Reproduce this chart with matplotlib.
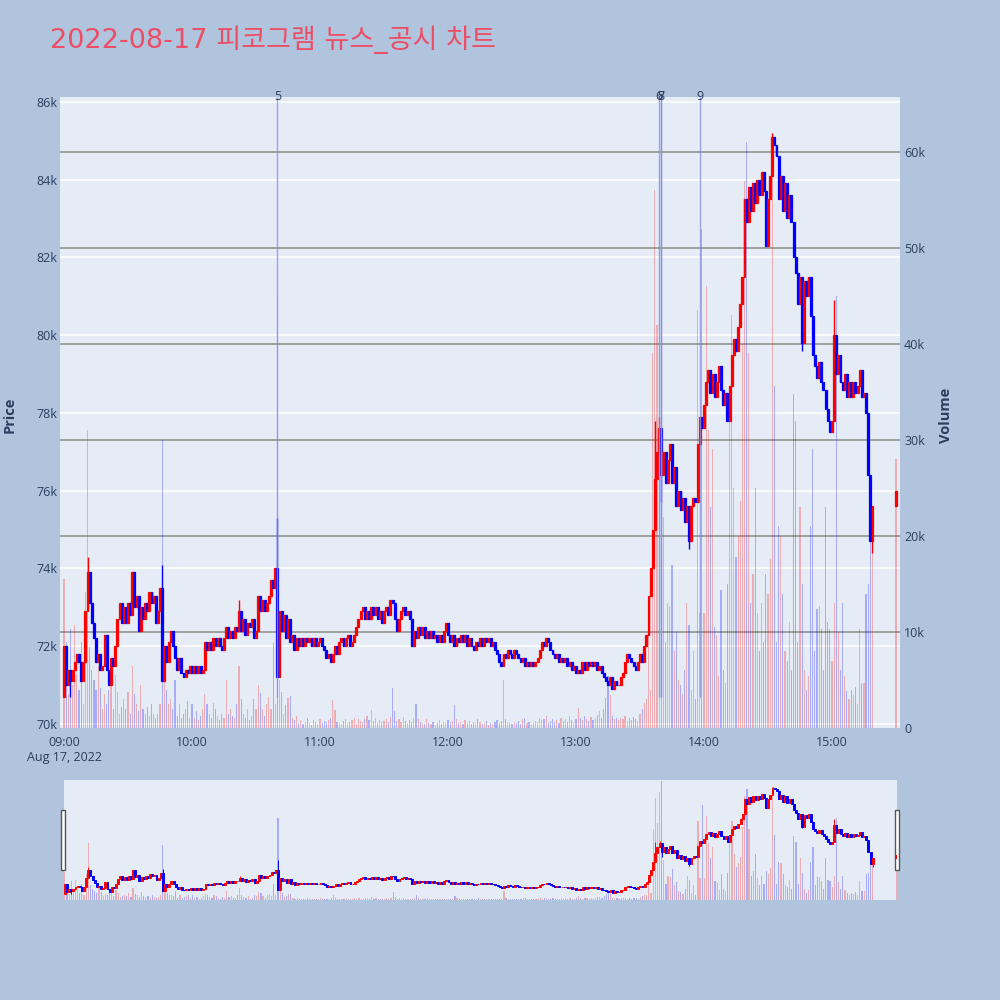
import matplotlib
matplotlib.use('Agg')
import matplotlib.pyplot as plt
import matplotlib.dates as mdates
from matplotlib.patches import Rectangle
from matplotlib.ticker import FuncFormatter
import numpy as np
import pandas as pd

plt.rcParams['font.family'] = ['Open Sans', 'Noto Sans CJK KR', 'DejaVu Sans']

title = '2022-08-17 피코그램 뉴스_공시 차트'

# minute closes in units of 100 won, 09:00 .. 15:19 (open = previous close)
close_100 = [
    720, 710, 714, 711, 714, 716, 718, 716, 711, 716,
    729, 739, 731, 726, 722, 716, 718, 714, 715, 723,
    714, 710, 717, 715, 720, 727, 731, 726, 730, 726,
    731, 728, 739, 730, 733, 724, 730, 727, 731, 729,
    734, 731, 733, 726, 729, 735, 711, 720, 716, 721,
    724, 720, 717, 714, 717, 713, 712, 714, 713, 715,
    713, 715, 713, 715, 713, 714, 721, 719, 721, 719,
    722, 720, 722, 720, 719, 722, 725, 722, 724, 722,
    725, 724, 729, 724, 727, 723, 726, 725, 727, 722,
    724, 733, 729, 732, 729, 731, 733, 737, 735, 740,
    712, 729, 724, 728, 722, 727, 721, 723, 719, 722,
    720, 722, 720, 722, 721, 722, 720, 722, 720, 721,
    722, 720, 719, 717, 718, 716, 718, 720, 718, 721,
    722, 720, 722, 723, 720, 721, 723, 725, 727, 729,
    730, 727, 729, 727, 730, 728, 730, 727, 729, 726,
    729, 730, 728, 732, 731, 727, 724, 727, 729, 730,
    728, 729, 727, 720, 724, 722, 725, 723, 725, 722,
    724, 722, 724, 722, 723, 721, 723, 721, 724, 726,
    723, 721, 723, 720, 722, 721, 723, 721, 723, 720,
    722, 720, 719, 721, 720, 722, 720, 722, 721, 722,
    720, 721, 719, 718, 716, 715, 718, 717, 719, 718,
    717, 719, 718, 717, 716, 717, 715, 716, 715, 716,
    715, 716, 717, 719, 721, 720, 722, 721, 719, 718,
    717, 718, 716, 717, 716, 717, 715, 716, 714, 715,
    713, 714, 713, 716, 714, 716, 715, 716, 715, 716,
    714, 715, 713, 712, 711, 710, 712, 709, 711, 710,
    710, 712, 713, 716, 718, 717, 716, 715, 714, 716,
    718, 716, 720, 723, 733, 740, 750, 763, 770, 776,
    764, 770, 762, 768, 772, 762, 766, 756, 760, 755,
    758, 752, 756, 747, 756, 758, 757, 772, 779, 776,
    782, 788, 791, 785, 790, 784, 788, 792, 786, 782,
    785, 778, 787, 795, 799, 796, 802, 808, 815, 835,
    829, 838, 832, 839, 834, 840, 836, 842, 837, 823,
    835, 841, 851, 849, 846, 835, 841, 832, 839, 830,
    836, 829, 820, 816, 808, 815, 798, 814, 810, 815,
    805, 795, 792, 789, 793, 788, 786, 781, 778, 775,
    778, 800, 790, 795, 788, 786, 790, 784, 788, 784,
    788, 785, 787, 791, 784, 785, 780, 764, 747, 756,
]
first_open_100 = 707
auction_close_100 = 760  # 15:30 closing auction

# wicks reaching beyond the body (minute index -> price / 100)
wick_high_100 = {11: 743, 46: 741, 82: 732, 100: 753, 277: 778, 279: 779, 332: 852, 361: 809}
wick_low_100 = {3: 707, 280: 757, 293: 745, 346: 796, 379: 744}

# volume per minute, thousands of shares
volume_k = [
    15.5, 9.0, 3.5, 10.3, 4.5, 10.7, 5.5, 4.0, 9.0, 2.5,
    14.2, 31.0, 8.4, 6.0, 5.0, 4.0, 6.5, 4.2, 2.0, 3.5,
    2.5, 4.0, 6.5, 2.0, 5.5, 3.8, 1.5, 2.2, 3.0, 2.0,
    3.8, 1.5, 6.5, 3.5, 2.5, 1.8, 4.5, 2.0, 1.5, 2.2,
    1.2, 2.5, 1.5, 1.0, 1.5, 2.5, 30.0, 6.0, 4.0, 2.5,
    3.0, 2.0, 5.0, 1.2, 2.5, 1.0, 1.5, 2.0, 2.8, 1.0,
    2.5, 1.0, 1.8, 0.8, 1.2, 2.0, 3.5, 2.5, 1.5, 1.0,
    2.6, 2.0, 1.2, 0.8, 1.5, 1.0, 5.0, 1.5, 2.0, 1.2,
    1.0, 2.5, 6.5, 3.0, 1.5, 1.0, 2.0, 0.8, 1.2, 3.0,
    2.0, 4.5, 3.6, 2.0, 1.2, 2.5, 3.2, 2.0, 8.8, 2.5,
    45.0, 5.0, 3.7, 1.5, 2.4, 3.1, 3.3, 1.0, 0.8, 1.2,
    0.5, 0.8, 0.4, 0.6, 1.0, 0.5, 0.3, 0.8, 0.6, 0.4,
    0.9, 0.5, 0.7, 0.6, 0.8, 1.0, 2.9, 1.9, 0.6, 0.5,
    0.4, 0.7, 0.9, 0.5, 0.6, 0.8, 1.0, 0.4, 0.9, 0.7,
    0.6, 0.9, 1.2, 0.8, 1.9, 0.7, 1.0, 0.5, 0.8, 0.6,
    0.7, 0.9, 0.6, 1.1, 4.2, 1.8, 0.7, 0.9, 0.6, 1.1,
    0.7, 0.5, 0.8, 0.6, 1.0, 2.5, 0.9, 0.6, 0.5, 0.4,
    0.9, 0.5, 0.4, 0.6, 0.3, 0.5, 0.8, 0.4, 0.6, 0.5,
    0.8, 0.6, 0.7, 2.4, 0.9, 0.5, 0.6, 0.4, 0.8, 0.5,
    0.7, 0.4, 0.6, 0.5, 0.9, 0.6, 0.4, 0.5, 0.7, 0.3,
    0.5, 0.4, 0.6, 0.8, 0.5, 0.7, 5.0, 0.9, 0.6, 0.5,
    0.4, 0.6, 0.5, 0.7, 0.4, 0.9, 1.0, 0.5, 0.6, 0.4,
    0.5, 0.7, 0.6, 1.0, 0.8, 0.9, 1.2, 0.5, 0.7, 0.9,
    0.6, 0.8, 0.5, 1.0, 0.7, 0.9, 0.6, 1.2, 0.8, 0.6,
    0.9, 2.1, 1.0, 0.8, 1.3, 0.9, 0.7, 1.1, 0.8, 1.0,
    1.4, 1.8, 1.0, 2.0, 3.1, 5.4, 3.4, 1.2, 0.9, 1.0,
    0.8, 1.0, 0.9, 1.2, 0.7, 1.0, 0.8, 1.1, 0.9, 0.7,
    1.5, 2.0, 2.6, 3.0, 10.0, 4.0, 39.0, 56.0, 42.0, 59.0,
    65.0, 22.0, 9.0, 13.0, 12.7, 17.0, 8.0, 10.0, 5.0, 4.5,
    3.5, 6.0, 13.0, 10.7, 4.0, 8.0, 3.0, 43.5, 12.0, 52.0,
    12.0, 46.0, 31.0, 23.0, 29.0, 10.5, 9.7, 5.4, 14.4, 6.0,
    4.7, 15.0, 35.6, 43.0, 25.0, 17.8, 20.0, 23.6, 40.0, 57.0,
    61.0, 39.0, 13.0, 16.0, 25.0, 12.0, 8.0, 13.0, 9.0, 16.0,
    14.0, 17.6, 62.0, 35.6, 9.0, 21.0, 20.0, 14.0, 8.0, 7.0,
    11.0, 6.0, 34.8, 32.0, 9.0, 23.0, 15.0, 6.0, 4.0, 5.4,
    21.0, 29.0, 8.0, 12.4, 12.7, 10.3, 6.0, 23.0, 11.0, 10.3,
    7.0, 13.0, 45.0, 10.0, 6.0, 13.0, 5.4, 3.9, 3.0, 4.0,
    3.4, 4.3, 2.5, 10.3, 4.7, 4.7, 14.0, 15.0, 24.0, 19.0,
]
auction_volume_k = 28.0

news_times = ['10:40', '13:39', '13:40', '13:40', '13:58']
news_labels = ['5', '6', '7', '8', '9']

# ---- build OHLCV ----
times = list(pd.date_range('2022-08-17 09:00', periods=len(close_100), freq='min'))
times.append(pd.Timestamp('2022-08-17 15:30'))
x = mdates.date2num(times)
close = np.array(close_100 + [auction_close_100], dtype=float) * 100
opn = np.concatenate([[first_open_100 * 100], close[:-1]])
high = np.maximum(opn, close)
low = np.minimum(opn, close)
for i, v in wick_high_100.items():
    high[i] = v * 100
for i, v in wick_low_100.items():
    low[i] = v * 100
volume = np.array(volume_k + [auction_volume_k]) * 1000
colors = np.where(close >= opn, '#FF0000', '#0000FF')

price_range = (69897, 86123)
volume_range = (0, 65700)
minute = 1 / 1440
x_range = (x[0] - 1.9 * minute, x[0] + 391.9 * minute)

BG = '#B0C4DE'
PLOT_BG = '#E5ECF6'
TXT = '#2a3f5f'


def draw(axp, axv, body_w, body_lw, wick_lw, vol_w):
    axv.set_zorder(1)
    axp.set_zorder(2)
    axp.patch.set_visible(False)
    axv.patch.set_visible(True)
    axv.patch.set_facecolor(PLOT_BG)
    axv.bar(x, volume, width=vol_w * minute, color=colors, alpha=0.27, linewidth=0)
    axp.vlines(x, low, high, colors=colors, linewidth=wick_lw)
    axp.bar(x, close - opn, bottom=opn, width=body_w * minute, color=colors,
            edgecolor=colors, linewidth=body_lw)
    axp.set_ylim(*price_range)
    axv.set_ylim(*volume_range)
    axp.set_xlim(*x_range)
    for a in (axp, axv):
        for s in a.spines.values():
            s.set_visible(False)


fig = plt.figure(figsize=(10, 10), dpi=100, facecolor=BG)

# main chart
axp = fig.add_axes([0.06, 0.272, 0.84, 0.631])
axv = axp.twinx()
for yv in range(10000, 60001, 10000):
    axv.axhline(yv, color='#999999', linewidth=1.3, zorder=0)
for yp in range(70000, 86001, 2000):
    axv.axhline((yp - price_range[0]) / (price_range[1] - price_range[0]) * volume_range[1],
                color='white', linewidth=1.1, zorder=0)
draw(axp, axv, body_w=0.9, body_lw=0.9, wick_lw=1.0, vol_w=0.55)

# news markers
news_x = mdates.date2num([pd.Timestamp('2022-08-17 ' + t) for t in news_times])
axp.vlines(news_x, low.min(), price_range[1], colors='#8494e0', linewidth=1.0, alpha=0.8, zorder=3)
for nx, lab in zip(news_x, news_labels):
    axp.text(nx, price_range[1], lab, ha='center', va='center', fontsize=9, color=TXT, zorder=4)

axp.set_yticks(range(70000, 86001, 2000))
axp.yaxis.set_major_formatter(FuncFormatter(lambda v, p: f'{int(v / 1000)}k'))
axv.set_yticks(range(0, 60001, 10000))
axv.yaxis.set_major_formatter(FuncFormatter(lambda v, p: '0' if v == 0 else f'{int(v / 1000)}k'))
hour_ticks = mdates.date2num([pd.Timestamp(f'2022-08-17 {h:02d}:00') for h in range(9, 16)])
axp.set_xticks(hour_ticks)
axp.set_xticklabels(['09:00\nAug 17, 2022'] + [f'{h}:00' for h in range(10, 16)])
axp.tick_params(axis='both', length=0, labelsize=9, labelcolor=TXT)
axp.tick_params(axis='y', pad=2)
axp.tick_params(axis='x', pad=6)
axv.tick_params(axis='y', length=0, labelsize=9, labelcolor=TXT, pad=3)

fig.text(0.010, 0.585, 'Price', rotation=90, fontsize=10.5, fontweight='bold',
         color=TXT, ha='center', va='center')
fig.text(0.946, 0.585, 'Volume', rotation=90, fontsize=10.5, fontweight='bold',
         color=TXT, ha='center', va='center')
fig.text(0.05, 0.960, title, fontsize=19.5, color='#EC4E66', ha='left', va='center',
         family=['DejaVu Sans', 'Noto Sans CJK KR'])

# range slider
axs = fig.add_axes([0.064, 0.100, 0.833, 0.120])
axsv = axs.twinx()
draw(axs, axsv, body_w=0.9, body_lw=0.7, wick_lw=0.7, vol_w=0.55)
axs.set_xlim(x[0] - 0.4 * minute, x[-1] + 0.4 * minute)
for a in (axs, axsv):
    a.set_xticks([])
    a.set_yticks([])
for hx in (0.0612, 0.8948):
    fig.patches.append(Rectangle((hx, 0.130), 0.0042, 0.060, transform=fig.transFigure,
                                 facecolor='white', edgecolor='#555555', linewidth=1.0))

fig.savefig('out.png', dpi=100, facecolor=fig.get_facecolor())
